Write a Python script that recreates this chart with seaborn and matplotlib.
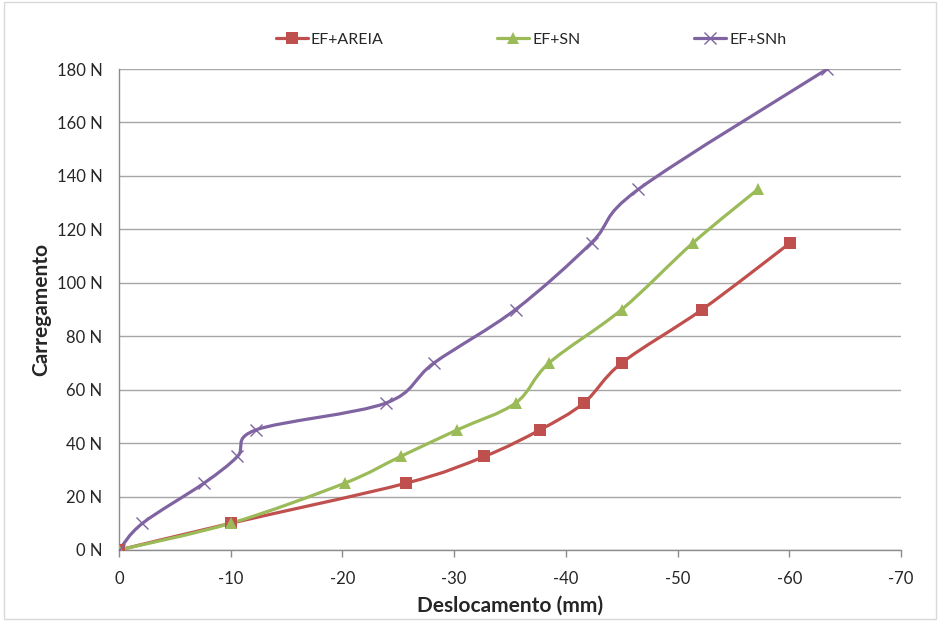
import numpy as np
import pandas as pd
import matplotlib
matplotlib.use("Agg")
import matplotlib.pyplot as plt
import seaborn as sns
from matplotlib.path import Path
from matplotlib.patches import PathPatch, Rectangle
from matplotlib.lines import Line2D

# ---- data ----
series_names = ["EF+AREIA", "EF+SN", "EF+SNh"]
areia_x = [0, -10.0, -25.7, -32.7, -37.7, -41.6, -45.0, -52.2, -60.1]
areia_y = [0, 10, 25, 35, 45, 55, 70, 90, 115]
sn_x = [0, -10.0, -20.2, -25.2, -30.3, -35.5, -38.5, -45.0, -51.4, -57.2]
sn_y = [0, 10, 25, 35, 45, 55, 70, 90, 115, 135]
snh_x = [0, -2.1, -7.6, -10.6, -12.3, -23.9, -28.2, -35.5, -42.3, -46.5, -63.4]
snh_y = [0, 10, 25, 35, 45, 55, 70, 90, 115, 135, 180]
x_ticks = [0, -10, -20, -30, -40, -50, -60, -70]
y_ticks = [0, 20, 40, 60, 80, 100, 120, 140, 160, 180]

colors = ["#C0504D", "#9BBB59", "#8064A2"]
markers = ["s", "^", "x"]

df = pd.concat([
    pd.DataFrame({"x": areia_x, "y": areia_y, "serie": series_names[0]}),
    pd.DataFrame({"x": sn_x, "y": sn_y, "serie": series_names[1]}),
    pd.DataFrame({"x": snh_x, "y": snh_y, "serie": series_names[2]}),
], ignore_index=True)

sns.set_theme(style="white")
plt.rcParams["font.family"] = ["Lato", "DejaVu Sans"]

fig = plt.figure(figsize=(9.4, 6.21), dpi=100)
ax = fig.add_axes([119/940, 1-550/621, (901-119)/940, (550-69)/621])


def smooth_path(xs, ys):
    P = np.column_stack([xs, ys]).astype(float)
    n = len(P)
    verts = [P[0]]
    codes = [Path.MOVETO]
    for i in range(n - 1):
        p0 = P[i - 1] if i > 0 else P[i]
        p1 = P[i]
        p2 = P[i + 1]
        p3 = P[i + 2] if i + 2 < n else P[i + 1]
        c1 = p1 + (p2 - p0) / 6.0
        c2 = p2 - (p3 - p1) / 6.0
        verts += [c1, c2, p2]
        codes += [Path.CURVE4] * 3
    return Path(verts, codes)


for name, col in zip(series_names, colors):
    sub = df[df.serie == name]
    patch = PathPatch(smooth_path(sub.x.values, sub.y.values), facecolor="none",
                      edgecolor=col, lw=2.3, zorder=3, capstyle="round")
    ax.add_patch(patch)

for name, col, mk in zip(series_names, colors, markers):
    sub = df[df.serie == name]
    kw = dict(marker=mk, color=col, linestyle="", zorder=4)
    if mk == "x":
        kw.update(markersize=9, markeredgewidth=1.0, markeredgecolor=col)
    else:
        kw.update(markersize=8, markeredgewidth=0, markerfacecolor=col)
    ax.plot(sub.x, sub.y, **kw)

handles = []
for name, col, mk in zip(series_names, colors, markers):
    if mk == "x":
        h = Line2D([], [], color=col, lw=2.3, marker=mk, markersize=9, markeredgewidth=1.0)
    else:
        h = Line2D([], [], color=col, lw=2.3, marker=mk, markersize=8, markeredgewidth=0)
    handles.append(h)
fig.legend(handles, series_names, loc="center", bbox_to_anchor=(531/940, 1-40/621),
           ncol=3, frameon=False, fontsize=11.5, columnspacing=7.1,
           handlelength=2.0, handletextpad=0.2)

ax.set_xlim(0, -70)
ax.set_ylim(0, 180)
ax.set_xticks(x_ticks)
ax.set_xticklabels([str(t) for t in x_ticks])
ax.set_yticks(y_ticks)
ax.set_yticklabels([f"{t} N" for t in y_ticks])
ax.yaxis.grid(True, color="#A6A6A6", lw=1.0)
ax.xaxis.grid(False)
for s in ["top", "right"]:
    ax.spines[s].set_visible(False)
for s in ["left", "bottom"]:
    ax.spines[s].set_color("#8C8C8C")
    ax.spines[s].set_linewidth(1.0)
ax.tick_params(axis="x", direction="out", length=5, width=1, color="#8C8C8C",
               bottom=True, labelsize=12, pad=10)
ax.tick_params(axis="y", length=0, labelsize=12, pad=12)
ax.set_xlabel("Deslocamento (mm)", fontsize=15, fontweight="bold", labelpad=6)
ax.set_ylabel("Carregamento", fontsize=15, fontweight="bold", labelpad=4)

fig.patches.append(Rectangle((4/940, 2/621), 932/940, 617/621, transform=fig.transFigure,
                             facecolor="none", edgecolor="#D9D9D9", lw=1.0))

fig.savefig("out.png", dpi=100)
